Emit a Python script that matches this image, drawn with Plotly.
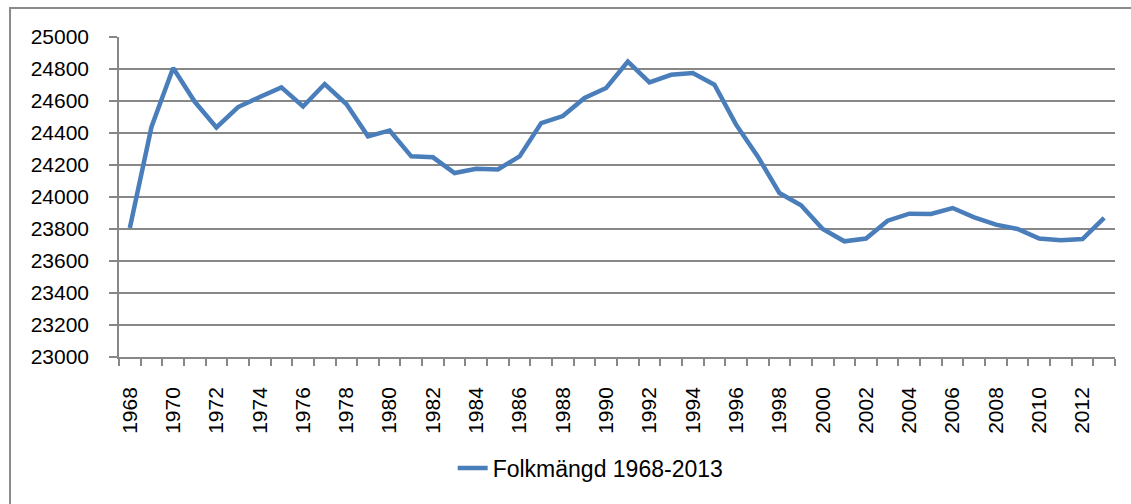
import plotly.graph_objects as go

years = list(range(1968, 2014))
folkmangd = [
    23806, 24438, 24806, 24595, 24435, 24562, 24625, 24685, 24566, 24706,
    24581, 24379, 24416, 24254, 24248, 24150, 24177, 24172, 24254, 24462,
    24506, 24619, 24681, 24846, 24716, 24764, 24775, 24702, 24452, 24254,
    24025, 23948, 23800, 23723, 23740, 23852, 23896, 23894, 23931, 23873,
    23827, 23800, 23740, 23729, 23737, 23869,
]
label_years = list(range(1968, 2013, 2))
y_ticks = list(range(23000, 25001, 200))

GRID = "#878787"
FONT = "Liberation Sans"

fig = go.Figure()
fig.add_trace(
    go.Scatter(
        x=years,
        y=folkmangd,
        mode="lines",
        name="Folkmängd 1968-2013",
        line=dict(color="#4A7EBB", width=4.5),
    )
)

fig.update_layout(
    width=1131,
    height=504,
    margin=dict(l=119, r=16, t=37, b=147),
    plot_bgcolor="white",
    paper_bgcolor="white",
    font=dict(family=FONT, size=21, color="black"),
    showlegend=True,
    legend=dict(
        orientation="h",
        x=0.335,
        xanchor="left",
        y=-0.347,
        yanchor="middle",
        font=dict(family=FONT, size=23, color="black"),
        bgcolor="rgba(0,0,0,0)",
    ),
    xaxis=dict(
        range=[1967.5, 2013.5],
        tickmode="array",
        tickvals=label_years,
        ticktext=[str(y) for y in label_years],
        tickangle=-90,
        tickfont=dict(family=FONT, size=21, color="black"),
        ticks="",
        ticklabelstandoff=20,
        automargin=False,
        showgrid=False,
        showline=True,
        linecolor=GRID,
        linewidth=1.5,
        zeroline=False,
        minor=dict(
            tickvals=[y - 0.5 for y in years] + [2013.5],
            ticks="outside",
            ticklen=7,
            tickcolor=GRID,
            tickwidth=1.5,
            showgrid=False,
        ),
    ),
    yaxis=dict(
        range=[23000, 25000],
        tickmode="array",
        tickvals=y_ticks,
        ticktext=[str(v) for v in y_ticks],
        tickfont=dict(family=FONT, size=21, color="black"),
        ticks="outside",
        ticklen=8,
        tickcolor=GRID,
        tickwidth=1.5,
        ticklabelstandoff=16,
        automargin=False,
        showgrid=True,
        gridcolor=GRID,
        gridwidth=1.5,
        showline=True,
        linecolor=GRID,
        linewidth=1.5,
        zeroline=False,
    ),
    shapes=[
        # outer chart frame (only left and top edges fall inside the picture)
        dict(
            type="rect",
            xref="paper",
            yref="paper",
            x0=-0.1094,
            x1=1.2,
            y0=-0.6,
            y1=1.0906,
            line=dict(color="#8A8A8A", width=2),
            layer="below",
        )
    ],
)

# drop the default page margin so the figure sits at the window's corner
fig.write_html(
    "out.html",
    config={"displayModeBar": False},
    post_script="document.body.style.margin='0';document.body.style.overflow='hidden';",
)
